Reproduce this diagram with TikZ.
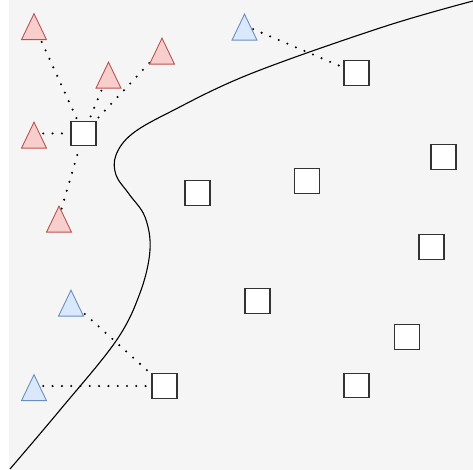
\documentclass[tikz,border=0pt]{standalone}
\usetikzlibrary{shapes.geometric,backgrounds}
\definecolor{bg}{HTML}{F5F5F5}
\definecolor{redfill}{HTML}{F8CECC}
\definecolor{redline}{HTML}{B85450}
\definecolor{bluefill}{HTML}{DAE8FC}
\definecolor{blueline}{HTML}{6C8EBF}
\definecolor{boxline}{HTML}{333333}
\tikzset{
  tri/.style={isosceles triangle, isosceles triangle stretches, shape border rotate=90,
    minimum width=25pt, minimum height=26pt, inner sep=0pt, line width=0.9pt, anchor=apex},
  redtri/.style={tri, fill=redfill, draw=redline},
  bluetri/.style={tri, fill=bluefill, draw=blueline},
  sq/.style={rectangle, minimum width=25pt, minimum height=24.5pt, inner sep=0pt,
    fill=white, draw=boxline, line width=1.2pt},
  link/.style={line width=2.3pt, line cap=round, dash pattern=on 0pt off 9.3pt},
}
\begin{document}
\begin{tikzpicture}[x=1pt,y=-1pt]
\useasboundingbox (0,0) rectangle (473,470);
% red triangles (positioned by apex) and their centres
\node[redtri] (t1) at (34,12.5) {};
\node[redtri] (t2) at (162,37) {};
\node[redtri] (t3) at (108.5,61) {};
\node[redtri] (t4) at (34,121) {};
\node[redtri] (t5) at (59,205) {};
\coordinate (c1) at (34,25);
\coordinate (c2) at (162,49.5);
\coordinate (c3) at (108.5,73.5);
\coordinate (c4) at (34,133.5);
\coordinate (c5) at (59,217.5);
% blue triangles
\node[bluetri] (b1) at (244.5,13) {};
\node[bluetri] (b2) at (71,289) {};
\node[bluetri] (b3) at (34,373.5) {};
\coordinate (d1) at (244.5,25.5);
\coordinate (d2) at (71,301.5);
\coordinate (d3) at (34,386);
% squares
\node[sq] (s1) at (83.5,133.5) {};
\node[sq] (s2) at (356.5,73) {};
\node[sq] (s3) at (164.5,386) {};
\node[sq] (s4) at (197.5,193) {};
\node[sq] (s5) at (307,181) {};
\node[sq] (s6) at (257.5,301) {};
\node[sq] (s7) at (407,337) {};
\node[sq] (s8) at (356.5,385.5) {};
\node[sq] (s9) at (443.5,157) {};
\node[sq] (s10) at (431.5,247) {};
\begin{pgfonlayer}{background}
\fill[bg] (9,0) rectangle (473,470);
% boundary curve
\draw[line width=1.1pt] plot[smooth, tension=0.6] coordinates {
 (10,469) (60,410) (116,341) (140,293) (150,250) (145,217) (129,194)
 (116,175) (116,155) (132,134) (170,112) (250,74) (383,27) (473,1)};
% connectors
\draw[link] (c1) -- (s1);
\draw[link] (c2) -- (s1);
\draw[link] (c3) -- (s1);
\draw[link] (c4) -- (s1);
\draw[link] (c5) -- (s1);
\draw[link] (d1) -- (s2);
\draw[link] (d2) -- (s3);
\draw[link] (d3) -- (s3);
\end{pgfonlayer}
\end{tikzpicture}
\end{document}
